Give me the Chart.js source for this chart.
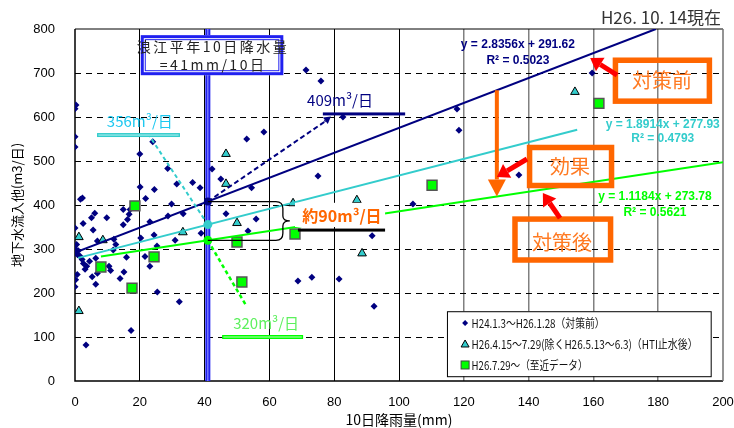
<!DOCTYPE html>
<html><head><meta charset="utf-8">
<script src="https://cdn.jsdelivr.net/npm/chart.js@4/dist/chart.umd.min.js"></script>
<style>html,body{margin:0;padding:0;background:#fff;}#wrap{width:734px;height:428px;}</style>
</head><body><div id="wrap"><canvas id="c" width="734" height="428"></canvas></div>
<script>
// ---- data ----
const xTicks = [0,20,40,60,80,100,120,140,160,180,200];
const yTicks = [0,100,200,300,400,500,600,700,800];
const seriesNames = ['H24.1.3～H26.1.28（対策前）','H26.4.15～7.29(除くH26.5.13～6.3)（HTI止水後）','H26.7.29～（至近データ）'];
const beforeX = [0.3,0,0,0,20,24,28.6,53,58.3,71.3,75.9,82.7,117.9,118.5,159.6,137,75,42.3,45,54.5,31.4,36.3,38.6,24.5,20.1,1.7,2.3,21.8,29.8,14.9,17,16.7,16.2,6.1,5.1,9.8,2.5,14.9,5.6,0,23.1,33.4,28.7,46.6,55.9,53.4,38.9,30.9,24.4,20.3,25.3,6.9,12,12.6,11.8,0,0.2,2.6,3.6,3.1,6.4,6.9,5.3,10.5,11,13.9,15.1,0.7,0.2,0,6.4,15.9,21.6,23.1,25.4,32.2,17.3,3.4,104.3,91.7,68.8,73.1,81.5,92.3,1,0.5,1.5,2.2,4.5,0.8];
const beforeY = [627,619,555,532,516,544,483,550,566,707,682,600,618,570,700,468,466,482,459,439,448,451,439,435,441,413,416,415,402,390,390,379,367,381,371,371,358,355,343,348,362,380,375,380,368,341,336,320,332,325,307,318,322,310,298,301,292,267,261,254,279,245,237,261,251,233,248,242,230,214,220,281,283,261,202,180,115,82,402,330,227,236,232,170,296,310,284,276,272,287];
const hsiX = [1.2,8.6,33.3,50,1.2,46.6,46.6,67.3,88.6,87,154.3];
const hsiY = [327,320,338,359,159,516,448,404,290,411,657];
const recentX = [18.5,24.4,8,17.6,51.5,50,67.9,110.2,161.7];
const recentY = [398,282,259,211,225,316,334,445,631];
const trendSlope = [2.8356,1.8914,1.1184];
const trendIntercept = [291.62,277.93,273.78];
const trendR2 = ['0.5023','0.4793','0.5621'];
const trendFrom = [0,1,8];
const trendTo = [179.3,155,200];
const normalRain = 41;
const effectLabels = ['409m³/日','356m³/日','320m³/日','約90m³/日'];
const boxLabels = ['対策前','効果','対策後'];

const pts = (xs,ys)=>xs.map((v,i)=>({x:v,y:ys[i]}));
const trendData = i => [trendFrom[i],trendTo[i]].map(v=>({x:v,y:trendSlope[i]*v+trendIntercept[i]}));
const NAVY='#000080', CYAN='#33CCCC', GREEN='#00FF00', ORANGE='#FF6600', RED='#FF0000', BLUE='#2020F0';
const JP='"Noto Sans CJK JP","Noto Sans",sans-serif';

function arrow(ctx,x1,y1,x2,y2,color,w,head,hw){
  const a=Math.atan2(y2-y1,x2-x1);
  const bx=x2-head*Math.cos(a), by=y2-head*Math.sin(a);
  ctx.strokeStyle=color; ctx.lineWidth=w; ctx.setLineDash([]);
  ctx.beginPath(); ctx.moveTo(x1,y1); ctx.lineTo(bx,by); ctx.stroke();
  ctx.fillStyle=color; ctx.beginPath(); ctx.moveTo(x2,y2);
  ctx.lineTo(bx+hw*Math.sin(a),by-hw*Math.cos(a));
  ctx.lineTo(bx-hw*Math.sin(a),by+hw*Math.cos(a)); ctx.closePath(); ctx.fill();
}
function dash(ctx,x1,y1,x2,y2,color,w,d){
  ctx.strokeStyle=color; ctx.lineWidth=w; ctx.setLineDash(d);
  ctx.beginPath(); ctx.moveTo(x1,y1); ctx.lineTo(x2,y2); ctx.stroke(); ctx.setLineDash([]);
}
function dot(ctx,x,y,r,c){ctx.fillStyle=c;ctx.beginPath();ctx.arc(x,y,r,0,Math.PI*2);ctx.fill();}
function text(ctx,s,x,y,font,color,align){ctx.font=font;ctx.fillStyle=color;ctx.textAlign=align||'center';ctx.textBaseline='middle';ctx.fillText(s,x,y);}

const annot = {
  id:'annot',
  beforeDatasetsDraw(chart){
    const {ctx,chartArea:a,scales:{x,y}}=chart;
    ctx.save();
    ctx.strokeStyle='#000'; ctx.lineWidth=1.5;
    ctx.beginPath(); ctx.moveTo(a.left,a.top); ctx.lineTo(a.left,a.bottom); ctx.lineTo(a.right,a.bottom); ctx.stroke();
    ctx.lineWidth=1; ctx.beginPath(); ctx.moveTo(a.left,a.top); ctx.lineTo(a.right,a.top); ctx.stroke();
    ctx.strokeStyle='#707070'; ctx.lineWidth=1.5; ctx.beginPath(); ctx.moveTo(a.right,a.top); ctx.lineTo(a.right,a.bottom); ctx.stroke();
    const px=x.getPixelForValue(normalRain);
    ctx.fillStyle=BLUE; ctx.fillRect(px-2.5,a.top,5,a.bottom-a.top);
    ctx.fillStyle='#a0a0ff'; ctx.fillRect(px-0.5,a.top,1,a.bottom-a.top);
    ctx.restore();
  },
  afterDatasetsDraw(chart){
    const {ctx,scales:{x,y}}=chart;
    const X=v=>x.getPixelForValue(v), Y=v=>y.getPixelForValue(v);
    ctx.save();
    const ix=X(normalRain);
    const iy=trendSlope.map((s,i)=>Y(s*normalRain+trendIntercept[i]));
    dash(ctx,ix,iy[0],X(78),Y(594),NAVY,2,[5,3]);
    arrow(ctx,X(77),Y(590),X(79),Y(601),NAVY,2,7,4);
    dash(ctx,ix,iy[1],X(22.9),Y(558),CYAN,2,[4,3]);
    dash(ctx,ix,iy[2],X(53),Y(169),GREEN,2.5,[4,3]);
    dot(ctx,ix,iy[0],4,NAVY); dot(ctx,ix,iy[1],4.5,CYAN); dot(ctx,ix,iy[2],4.5,GREEN);
    ctx.strokeStyle='#000'; ctx.lineWidth=1.3;
    const bx=X(62), ty=iy[0], by=iy[2], my=(ty+by)/2;
    ctx.beginPath(); ctx.moveTo(ix,ty); ctx.lineTo(bx,ty);
    ctx.quadraticCurveTo(bx+7,ty,bx+7,ty+7); ctx.lineTo(bx+7,my-5); ctx.quadraticCurveTo(bx+7,my,bx+14,my);
    ctx.quadraticCurveTo(bx+7,my,bx+7,my+5); ctx.lineTo(bx+7,by-7); ctx.quadraticCurveTo(bx+7,by,bx,by); ctx.lineTo(ix,by); ctx.stroke();
    text(ctx,effectLabels[0],X(81.8),Y(639),'15px '+JP,NAVY);
    ctx.fillStyle=NAVY; ctx.fillRect(X(76.5),Y(607)-1.5,X(101.9)-X(76.5),3);
    text(ctx,effectLabels[1],X(20),Y(591),'15px '+JP,'#1EC8F0');
    ctx.fillStyle=CYAN; ctx.fillRect(X(6.8),Y(559)-2,X(32.4)-X(6.8),4);
    ctx.fillStyle='#b8f0f0'; ctx.fillRect(X(7.2),Y(559)-0.5,X(32)-X(7.2),1);
    text(ctx,effectLabels[2],X(59),Y(132),'15px '+JP,'#5CF05C');
    ctx.fillStyle=GREEN; ctx.fillRect(X(45.4),Y(100)-2,X(70.4)-X(45.4),4);
    ctx.fillStyle='#c0ffc0'; ctx.fillRect(X(45.8),Y(100)-0.5,X(70)-X(45.8),1);
    ctx.fillStyle='#fff'; ctx.fillRect(X(67.9),Y(405),X(95.7)-X(67.9),Y(350)-Y(405));
    text(ctx,effectLabels[3],X(82.4),Y(375),'bold 16px '+JP,ORANGE);
    ctx.fillStyle='#000'; ctx.fillRect(X(68.8),Y(343)-1.5,X(95.7)-X(68.8),3);
    const rx0=X(20.3), rx1=X(64.3), ry0=Y(786), ry1=Y(695);
    ctx.fillStyle='#fff'; ctx.fillRect(rx0,ry0,rx1-rx0,ry1-ry0);
    ctx.strokeStyle=BLUE; ctx.lineWidth=3; ctx.strokeRect(rx0+1.5,ry0+1.5,rx1-rx0-3,ry1-ry0-3);
    ctx.lineWidth=1; ctx.strokeRect(rx0+4.5,ry0+4.5,rx1-rx0-9,ry1-ry0-9);
    ctx.letterSpacing='2.5px';
    text(ctx,'浪江平年10日降水量',X(42.6),Y(759),'14px '+JP,'#222');
    text(ctx,'='+normalRain+'mm/10日',X(42.6),Y(718),'14px '+JP,'#222');
    ctx.letterSpacing='0px';
    const eqPos=[[136.7,764,727],[181.4,582,550],[179,418,382]];
    const eqCol=[NAVY,CYAN,GREEN];
    trendSlope.forEach((s,i)=>{
      text(ctx,'y = '+s.toFixed(4)+'x + '+trendIntercept[i].toFixed(2),X(eqPos[i][0]),Y(eqPos[i][1]),'bold 12px "Liberation Sans",Arial,sans-serif',eqCol[i]);
      text(ctx,'R² = '+trendR2[i],X(eqPos[i][0]),Y(eqPos[i][2]),'bold 12px "Liberation Sans",Arial,sans-serif',eqCol[i]);
    });
    const ax=130.2;
    arrow(ctx,X(ax),Y(trendSlope[0]*ax+trendIntercept[0]),X(ax),Y(trendSlope[2]*ax+trendIntercept[2]),ORANGE,4,17,9);
    const boxes=[[166.8,195.8,729,636,181.2,684],[140.3,165.6,530.7,444.3,152.8,488.6],[135.8,165.3,368,275,150.3,316]];
    boxes.forEach((b,i)=>{
      ctx.strokeStyle=ORANGE; ctx.lineWidth=5.5; ctx.setLineDash([]);
      ctx.strokeRect(X(b[0]),Y(b[2]),X(b[1])-X(b[0]),Y(b[3])-Y(b[2]));
      text(ctx,boxLabels[i],X(b[4]),Y(b[5]),'20px '+JP,'#FF7A22');
    });
    arrow(ctx,X(167.3),Y(695),X(159),Y(734),RED,5,12,8);
    arrow(ctx,X(139.5),Y(504.5),X(130.2),Y(463.6),RED,5,12,8);
    arrow(ctx,X(149.7),Y(370),X(144.4),Y(427),RED,5,12,8);
    const lx0=X(114.8), lx1=X(196.2), ly0=Y(158.6), ly1=Y(10.9);
    ctx.fillStyle='#fff'; ctx.fillRect(lx0,ly0,lx1-lx0,ly1-ly0);
    ctx.strokeStyle='#000'; ctx.lineWidth=1; ctx.strokeRect(lx0+0.5,ly0+0.5,lx1-lx0,ly1-ly0);
    const rows=[131.8,84.1,36.4], mx=X(120.4), tx=X(122.4), widths=[133,226,116];
    let yy=Y(rows[0]); ctx.fillStyle=NAVY; ctx.beginPath(); ctx.moveTo(mx,yy-3); ctx.lineTo(mx+3,yy); ctx.lineTo(mx,yy+3); ctx.lineTo(mx-3,yy); ctx.closePath(); ctx.fill();
    yy=Y(rows[1]); ctx.fillStyle=CYAN; ctx.strokeStyle='#000'; ctx.beginPath(); ctx.moveTo(mx,yy-4); ctx.lineTo(mx+4,yy+3); ctx.lineTo(mx-4,yy+3); ctx.closePath(); ctx.fill(); ctx.stroke();
    yy=Y(rows[2]); ctx.fillStyle=GREEN; ctx.fillRect(mx-4,yy-4,8,8); ctx.strokeStyle='#444'; ctx.strokeRect(mx-4,yy-4,8,8);
    rows.forEach((r,i)=>{ctx.font='12px '+JP; ctx.fillStyle='#111'; ctx.textAlign='left'; ctx.textBaseline='middle'; ctx.fillText(seriesNames[i],tx,Y(r),widths[i]);});
    text(ctx,'H26. 10. 14現在',X(200)-2,18,'17px '+JP,'#333','right');
    ctx.restore();
  }
};

new Chart(document.getElementById('c'),{
  type:'scatter',
  data:{datasets:[
    {label:'trend1',data:trendData(0),showLine:true,borderColor:NAVY,borderWidth:2,pointRadius:0,order:0},
    {label:'trend2',data:trendData(1),showLine:true,borderColor:CYAN,borderWidth:2,pointRadius:0,order:0},
    {label:'trend3',data:trendData(2),showLine:true,borderColor:GREEN,borderWidth:2,pointRadius:0,order:0},
    {label:seriesNames[2],data:pts(recentX,recentY),pointStyle:'rect',pointRadius:7,backgroundColor:GREEN,borderColor:'#555',borderWidth:1.5,order:1},
    {label:seriesNames[1],data:pts(hsiX,hsiY),pointStyle:'triangle',pointRadius:5,backgroundColor:CYAN,borderColor:'#000',borderWidth:1,order:2},
    {label:seriesNames[0],data:pts(beforeX,beforeY),pointStyle:'rectRot',pointRadius:3.5,backgroundColor:NAVY,borderWidth:0,order:3}
  ]},
  options:{
    responsive:false,devicePixelRatio:1,animation:false,
    layout:{padding:{left:0,right:11,top:29,bottom:0}},
    plugins:{legend:{display:false},tooltip:{enabled:false}},
    scales:{
      x:{type:'linear',min:0,max:200,
        afterBuildTicks:s=>{s.ticks=xTicks.map(v=>({value:v}));},
        afterFit:s=>{s.height=47;s.paddingLeft=0;s.paddingRight=0;},
        ticks:{padding:14,color:'#000',font:{size:13,family:'"Liberation Sans",Arial,sans-serif'},maxRotation:0},
        grid:{drawTicks:false,color:c=>(c.tick.value===0||c.tick.value===200)?'rgba(0,0,0,0)':(c.tick.value>100?'#808080':'#000'),lineWidth:c=>c.tick.value>100?1.5:1},
        border:{display:false},
        title:{display:true,text:'10日降雨量(mm)',color:'#000',font:{size:14,family:JP},padding:{top:0,bottom:0}}},
      y:{min:0,max:800,
        afterBuildTicks:s=>{s.ticks=yTicks.map(v=>({value:v}));},
        afterFit:s=>{s.width=75;s.paddingTop=0;s.paddingBottom=0;},
        ticks:{padding:20,color:'#000',font:{size:13,family:'"Liberation Sans",Arial,sans-serif'}},
        grid:{drawTicks:false,color:c=>(c.tick.value===0||c.tick.value===800)?'rgba(0,0,0,0)':'#000',lineWidth:1},
        border:{display:false,dash:[6,5]},
        title:{display:true,text:'地下水流入他(m3/日)',color:'#000',font:{size:13,family:JP},padding:{top:9,bottom:0}}}
    }
  },
  plugins:[annot]
});
</script></body></html>
